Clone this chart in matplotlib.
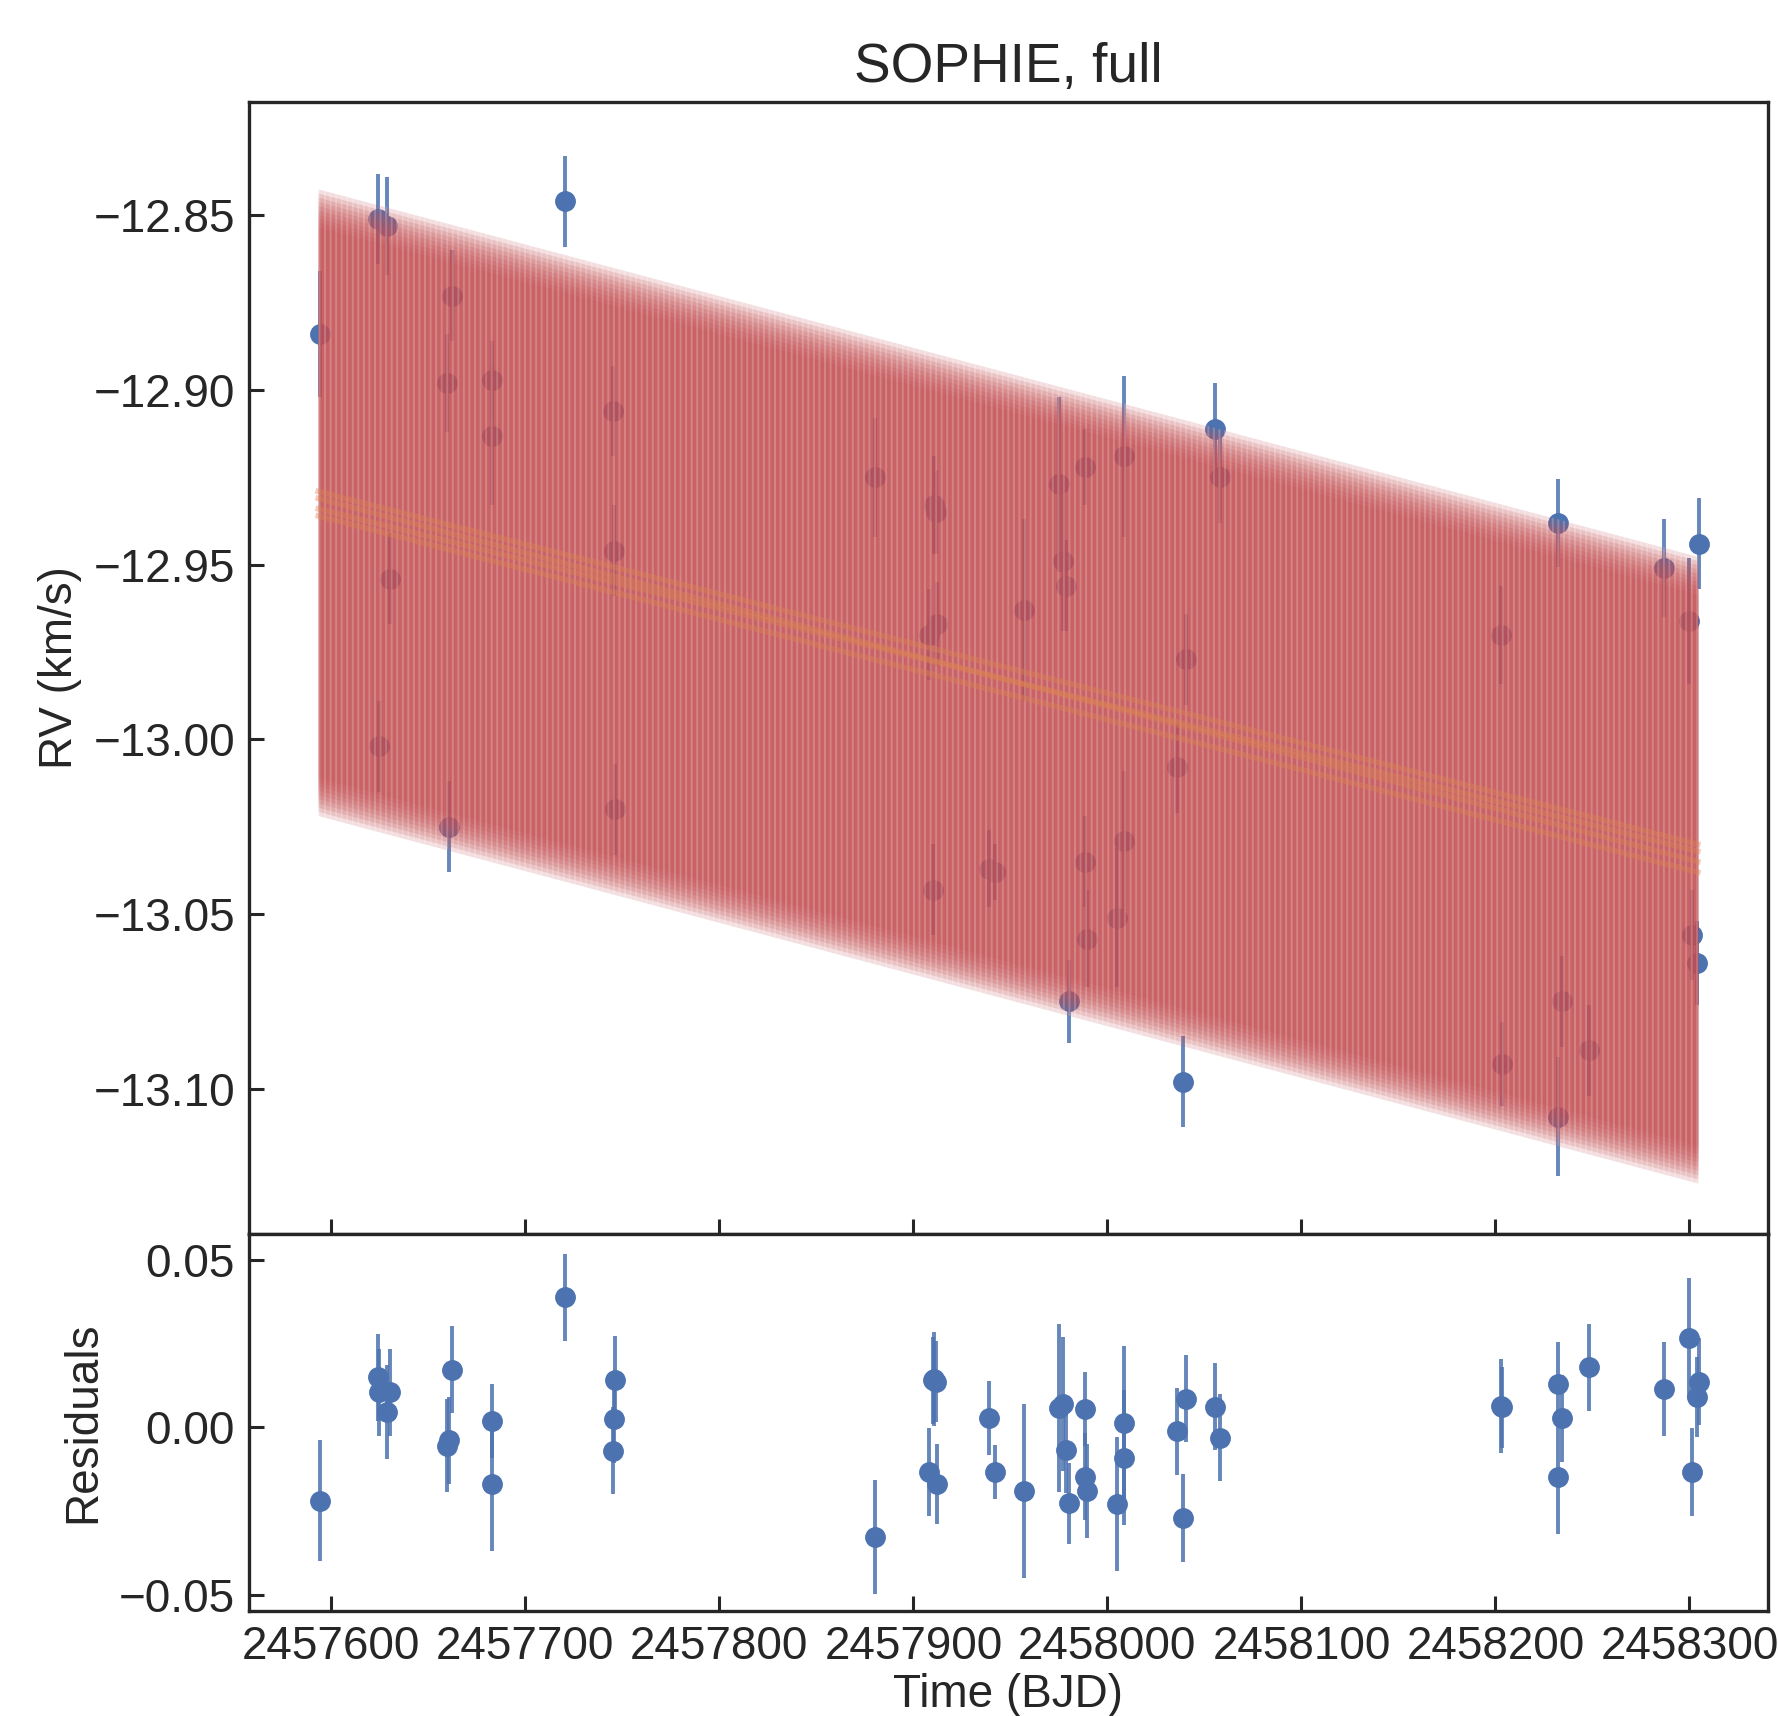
import matplotlib
matplotlib.use("Agg")
import matplotlib.pyplot as plt
import numpy as np
from matplotlib.ticker import FixedLocator, FuncFormatter

# ============================================================
# SOPHIE radial velocities
# ============================================================

bjd = [
    2457594.0,
    2457624.0, 2457624.8, 2457628.6, 2457630.0,
    2457659.4, 2457660.4, 2457662.1,
    2457682.7, 2457682.9,
    2457720.4,
    2457745.0, 2457745.5, 2457746.4,
    2457880.1,
    2457908.0, 2457910.0, 2457910.6, 2457911.5, 2457912.0,
    2457939.2, 2457941.8,
    2457956.8,
    2457974.8, 2457977.0, 2457978.8, 2457980.0,
    2457988.3, 2457988.5, 2457989.7,
    2458004.8, 2458008.3, 2458008.6,
    2458036.1, 2458038.7, 2458040.4,
    2458055.3, 2458057.9,
    2458203.0, 2458203.6,
    2458232.0, 2458232.2, 2458234.2,
    2458248.3,
    2458287.1,
    2458300.0, 2458301.4, 2458303.9, 2458305.1,
]

rv = [
    -12.884,
    -12.851, -13.002, -12.853, -12.954,
    -12.898, -13.025, -12.873,
    -12.897, -12.913,
    -12.846,
    -12.906, -12.946, -13.020,
    -12.925,
    -12.970, -13.043, -12.933, -12.935, -12.967,
    -13.037, -13.038,
    -12.963,
    -12.927, -12.949, -12.956, -13.075,
    -12.922, -13.035, -13.057,
    -13.051, -12.919, -13.029,
    -13.008, -13.098, -12.977,
    -12.911, -12.925,
    -12.970, -13.093,
    -12.938, -13.108, -13.075,
    -13.089,
    -12.951,
    -12.966, -13.056, -13.064, -12.944,
]

rv_err = [
    0.018,
    0.013, 0.013, 0.014, 0.013,
    0.014, 0.013, 0.013,
    0.011, 0.020,
    0.013,
    0.013, 0.013, 0.013,
    0.017,
    0.013, 0.013, 0.014, 0.012, 0.012,
    0.011, 0.008,
    0.026,
    0.025, 0.020, 0.013, 0.012,
    0.011, 0.013, 0.014,
    0.020, 0.023, 0.020,
    0.013, 0.013, 0.013,
    0.013, 0.013,
    0.014, 0.012,
    0.0125, 0.017, 0.013,
    0.013,
    0.014,
    0.018, 0.013, 0.012, 0.013,
]

resid = [
    -0.0219,
    0.0149, 0.0105, 0.0047, 0.0105,
    -0.0054, -0.0039, 0.0172,
    0.0018, -0.0169,
    0.0388,
    -0.0069, 0.0025, 0.0142,
    -0.0327,
    -0.0133, 0.0140, 0.0145, 0.0136, -0.0169,
    0.0027, -0.0133,
    -0.0190,
    0.0057, 0.0069, -0.0066, -0.0226,
    0.0056, -0.0147, -0.0190,
    -0.0228, 0.0012, -0.0090,
    -0.0012, -0.0270, 0.0085,
    0.0062, -0.0031,
    0.0064, 0.0060,
    0.0128, -0.0147, 0.0027,
    0.0179,
    0.0113,
    0.0265, -0.0133, 0.0091, 0.0136,
]

# envelope of the posterior model draws (start / end of the baseline)
band_bjd = [2457593.2, 2458304.3]
band_upper = [-12.8424, -12.9476]
band_lower = [-13.0218, -13.1270]

# linear-trend draws
trend_bjd = [2457593.2, 2458304.3]
trend_first = [-12.929, -12.931, -12.934, -12.936]
trend_last = [-13.030, -13.035, -13.032, -13.038]

x_ticks = [2457600, 2457700, 2457800, 2457900, 2458000, 2458100, 2458200, 2458300]
rv_ticks = [-12.85, -12.90, -12.95, -13.00, -13.05, -13.10]
res_ticks = [0.05, 0.00, -0.05]

BLUE = "#4C72B0"
RED = "#C44E52"
ORANGE = "#DD8452"
INK = "#262626"

plt.rcParams.update({
    "font.family": ["Liberation Sans", "DejaVu Sans"],
    "font.size": 16.5,
    "text.color": INK,
    "axes.labelcolor": INK,
    "axes.edgecolor": INK,
    "axes.linewidth": 1.2,
    "xtick.color": INK,
    "ytick.color": INK,
    "hatch.linewidth": 0.7,
})


def minus_fmt(v, _pos):
    return f"{v:.2f}".replace("-", "\u2212")


fig = plt.figure(figsize=(8.89, 8.58), dpi=200)
gs = fig.add_gridspec(
    2, 1, height_ratios=[3, 1], hspace=0,
    left=0.140, right=0.9944, top=0.9406, bottom=0.0612,
)
ax = fig.add_subplot(gs[0])
axr = fig.add_subplot(gs[1], sharex=ax)

ecol = matplotlib.colors.to_rgba(BLUE, 0.85)

# ---------------- top panel ----------------
ax.errorbar(bjd, rv, yerr=rv_err, fmt="o", color=BLUE, ecolor=ecol,
            ms=6.5, elinewidth=1.4, capsize=0, zorder=1)

up = np.array(band_upper)
lo = np.array(band_lower)
n_layers = 10
for k in range(n_layers):
    inset = k * 0.0012
    ax.fill_between(band_bjd, up - inset, lo + inset, color=RED,
                    alpha=0.19, lw=0, zorder=2)
ax.fill_between(band_bjd, up, lo, facecolor="none",
                edgecolor=(1, 1, 1, 0.22), hatch="||||||", lw=0, zorder=2.5)

for a, b in zip(trend_first, trend_last):
    ax.plot(trend_bjd, [a, b], color=ORANGE, lw=2.0, alpha=0.4, zorder=3)

ax.set_xlim(2457557.5, 2458340.5)
ax.set_ylim(-13.1415, -12.8175)
ax.yaxis.set_major_locator(FixedLocator(rv_ticks))
ax.yaxis.set_major_formatter(FuncFormatter(minus_fmt))
ax.set_ylabel("RV (km/s)", labelpad=4)
ax.set_title("SOPHIE, full", pad=7)

# ---------------- residuals ----------------
axr.errorbar(bjd, resid, yerr=rv_err, fmt="o", color=BLUE, ecolor=ecol,
             ms=6.5, elinewidth=1.4, capsize=0, zorder=1)
axr.set_ylim(-0.0547, 0.0577)
axr.yaxis.set_major_locator(FixedLocator(res_ticks))
axr.yaxis.set_major_formatter(FuncFormatter(minus_fmt))
axr.xaxis.set_major_locator(FixedLocator(x_ticks))
axr.xaxis.set_major_formatter(FuncFormatter(lambda v, _p: f"{v:.0f}"))
axr.set_ylabel("Residuals", labelpad=5)
axr.set_xlabel("Time (BJD)", labelpad=1.5)

for a in (ax, axr):
    a.tick_params(direction="in", length=5.4, width=1.1, pad=5,
                  top=False, right=False)
ax.tick_params(labelbottom=False)

fig.savefig("out.png", dpi=200)
